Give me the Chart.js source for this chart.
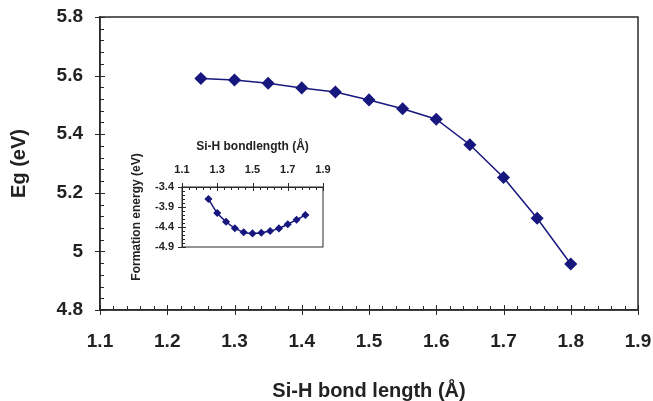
<!DOCTYPE html>
<html>
<head>
<meta charset="utf-8">
<script src="https://cdn.jsdelivr.net/npm/chart.js@4.4.1/dist/chart.umd.min.js"></script>
<style>
  html, body { margin: 0; padding: 0; background: #fff; }
  #wrap { position: relative; width: 653px; height: 401px; }
  #main { position: absolute; left: 0; top: 0; }
  #inset { position: absolute; left: 125px; top: 130px; }
</style>
</head>
<body>
<div id="wrap">
  <canvas id="main" width="653" height="401"></canvas>
  <canvas id="inset" width="215" height="160"></canvas>
</div>
<script>
// data
const bondLength = [1.25, 1.30, 1.35, 1.40, 1.45, 1.50, 1.55, 1.60, 1.65, 1.70, 1.75, 1.80];
const bandGap = [5.590, 5.585, 5.574, 5.558, 5.544, 5.517, 5.487, 5.451, 5.364, 5.252, 5.113, 4.957];
const formationEnergy = [-3.70, -4.05, -4.27, -4.43, -4.53, -4.56, -4.545, -4.50, -4.435, -4.33, -4.22, -4.10];

const mainXTicks = [1.1, 1.2, 1.3, 1.4, 1.5, 1.6, 1.7, 1.8, 1.9];
const mainYTicks = [4.8, 5.0, 5.2, 5.4, 5.6, 5.8];
const insetXTicks = [1.1, 1.3, 1.5, 1.7, 1.9];
const insetYTicks = [-4.9, -4.4, -3.9, -3.4];

const navy = '#17177e';
const axisColor = '#2a2a2a';
const fam = "'Liberation Sans', Arial, sans-serif";

const fmt = v => String(Number(v.toFixed(2)));

// frame + major/minor tick marks, placed with the chart's own scales
const axisDeco = {
  id: 'axisDeco',
  afterDraw(chart, args, o) {
    const { ctx, chartArea: a } = chart;
    const xs = chart.scales.x, ys = chart.scales.y;
    ctx.save();
    ctx.strokeStyle = axisColor;
    ctx.lineWidth = o.frame;
    ctx.strokeRect(a.left, a.top, a.right - a.left, a.bottom - a.top);
    ctx.lineWidth = 1;
    ctx.beginPath();
    const xEdge = o.xTop ? a.top : a.bottom;
    const xDir = o.xTop ? 1 : -1;
    for (let i = 0; ; i++) {
      const v = xs.min + i * o.xMinor;
      if (v > xs.max + 1e-9) break;
      const px = Math.round(xs.getPixelForValue(v)) + 0.5;
      if (i % o.per === 0) {
        ctx.moveTo(px, xEdge - xDir * o.out);
        ctx.lineTo(px, xEdge + xDir * o.inMajor);
      } else {
        ctx.moveTo(px, xEdge);
        ctx.lineTo(px, xEdge + xDir * o.inMinor);
      }
    }
    for (let i = 0; ; i++) {
      const v = ys.min + i * o.yMinor;
      if (v > ys.max + 1e-9) break;
      const py = Math.round(ys.getPixelForValue(v)) + 0.5;
      if (i % o.per === 0) {
        ctx.moveTo(a.left - o.out, py);
        ctx.lineTo(a.left + o.inMajor, py);
      } else {
        ctx.moveTo(a.left, py);
        ctx.lineTo(a.left + o.inMinor, py);
      }
    }
    ctx.stroke();
    ctx.restore();
  }
};

const setTicks = list => scale => { scale.ticks = list.map(v => ({ value: v })); };
// fixed axis sizes, no extra label overhang padding
const fitX = h => s => { s.height = h; s.paddingLeft = 0; s.paddingRight = 0; };
const fitY = w => s => { s.width = w; s.paddingTop = 0; s.paddingBottom = 0; };

new Chart(document.getElementById('main'), {
  type: 'line',
  data: {
    datasets: [{
      data: bondLength.map((x, i) => ({ x, y: bandGap[i] })),
      borderColor: navy,
      backgroundColor: navy,
      borderWidth: 1.5,
      pointStyle: 'rectRot',
      pointRadius: 5.5,
      tension: 0
    }]
  },
  options: {
    responsive: false,
    animation: false,
    layout: { padding: { left: 0, top: 17, right: 15, bottom: 0 } },
    plugins: {
      legend: { display: false },
      tooltip: { enabled: false },
      axisDeco: { frame: 1.5, xMinor: 0.02, yMinor: 0.04, per: 5, out: 5, inMajor: 5, inMinor: 4, xTop: false }
    },
    scales: {
      x: {
        type: 'linear', min: 1.1, max: 1.9,
        afterBuildTicks: setTicks(mainXTicks),
        afterFit: fitX(91),
        grid: { display: false, drawTicks: false },
        border: { display: true, color: axisColor, width: 1.5 },
        ticks: { color: '#222', padding: 20, font: { family: fam, size: 19, weight: 'bold' }, callback: v => fmt(v), maxRotation: 0 },
        title: { display: true, text: 'Si-H bond length (Å)', color: '#222', padding: { bottom: 0 }, font: { family: fam, size: 20, weight: 'bold', lineHeight: 1 } }
      },
      y: {
        type: 'linear', min: 4.8, max: 5.8,
        afterBuildTicks: setTicks(mainYTicks),
        afterFit: fitY(100),
        grid: { display: false, drawTicks: false },
        border: { display: true, color: axisColor, width: 1.5 },
        ticks: { color: '#222', padding: 17, font: { family: fam, size: 19, weight: 'bold' }, callback: v => fmt(v) },
        title: { display: true, text: 'Eg (eV)', color: '#222', padding: { top: 7 }, font: { family: fam, size: 20, weight: 'bold' } }
      }
    }
  },
  plugins: [axisDeco]
});

new Chart(document.getElementById('inset'), {
  type: 'line',
  data: {
    datasets: [{
      data: bondLength.map((x, i) => ({ x, y: formationEnergy[i] })),
      borderColor: navy,
      backgroundColor: navy,
      borderWidth: 1.5,
      pointStyle: 'rectRot',
      pointRadius: 3,
      cubicInterpolationMode: 'monotone'
    }]
  },
  options: {
    responsive: false,
    animation: false,
    layout: { padding: { left: 0, top: 0, right: 17, bottom: 43 } },
    plugins: {
      legend: { display: false },
      tooltip: { enabled: false },
      axisDeco: { frame: 1, xMinor: 0.04, yMinor: 0.1, per: 5, out: 4, inMajor: 4, inMinor: 3, xTop: true }
    },
    scales: {
      x: {
        type: 'linear', position: 'top', min: 1.1, max: 1.9,
        afterBuildTicks: setTicks(insetXTicks),
        afterFit: fitX(57),
        grid: { display: false, drawTicks: false },
        border: { display: true, color: axisColor, width: 1 },
        ticks: { color: '#222', padding: 10, font: { family: fam, size: 11, weight: 'bold' }, callback: v => fmt(v), maxRotation: 0 },
        title: { display: true, text: 'Si-H bondlength (Å)', color: '#222', padding: { top: 9 }, font: { family: fam, size: 12, weight: 'bold' } }
      },
      y: {
        type: 'linear', min: -4.9, max: -3.4,
        afterBuildTicks: setTicks(insetYTicks),
        afterFit: fitY(57),
        grid: { display: false, drawTicks: false },
        border: { display: true, color: axisColor, width: 1 },
        ticks: { color: '#222', padding: 8, font: { family: fam, size: 11, weight: 'bold' }, callback: v => fmt(v) },
        title: { display: true, text: 'Formation energy (eV)', color: '#222', padding: { top: 4 }, font: { family: fam, size: 12, weight: 'bold' } }
      }
    }
  },
  plugins: [axisDeco]
});
</script>
</body>
</html>
